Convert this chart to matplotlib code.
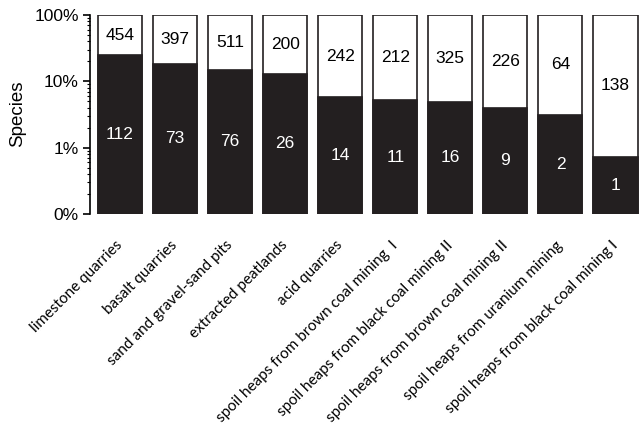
import matplotlib
matplotlib.use("Agg")
import matplotlib.pyplot as plt
import numpy as np
from matplotlib.ticker import FixedLocator, LogLocator, NullFormatter

categories = ["limestone quarries", "basalt quarries", "sand and gravel-sand pits",
              "extracted peatlands", "acid quarries", "spoil heaps from brown coal mining  I",
              "spoil heaps from black coal mining II", "spoil heaps from brown coal mining II",
              "spoil heaps from uranium mining", "spoil heaps from black coal mining I"]
totals = [454, 397, 511, 200, 242, 212, 325, 226, 64, 138]
subset = [112, 73, 76, 26, 14, 11, 16, 9, 2, 1]
ytick_vals = [0.1, 1, 10, 100]
ytick_labels = ["0%", "1%", "10%", "100%"]

W, H = 639, 429
fig = plt.figure(figsize=(W/100, H/100), dpi=100)
ax = fig.add_axes([90/W, 1-214/H, (639-90)/W, 199/H])

x = np.arange(len(categories))
pct = np.array(subset) / np.array(totals) * 100
ymin, ymax = 0.1, 100
dark = "#231f20"
bw = 0.8
ax.bar(x, ymax - ymin, bottom=ymin, width=bw, color="white", edgecolor=dark, linewidth=1.2, zorder=2)
ax.bar(x, pct - ymin, bottom=ymin, width=bw, color=dark, edgecolor=dark, linewidth=1.2, zorder=3)

ax.set_yscale("log")
ax.set_ylim(ymin, ymax)
ax.set_xlim(-0.545, 9.427)

for xi, p, t, s in zip(x, pct, totals, subset):
    ax.text(xi, np.sqrt(p * ymax), str(t), ha="center", va="center", fontsize=12.5,
            color="black", family="Liberation Sans", zorder=4)
    ax.text(xi, np.sqrt(p * ymin), str(s), ha="center", va="center", fontsize=12.5,
            color="white", family="Liberation Sans", zorder=4)

ax.yaxis.set_major_locator(FixedLocator(ytick_vals))
ax.set_yticklabels(ytick_labels, fontsize=12.5, family="Liberation Sans")
ax.yaxis.set_minor_locator(LogLocator(base=10, subs=np.arange(2, 10)))
ax.yaxis.set_minor_formatter(NullFormatter())
ax.tick_params(axis="y", which="major", length=5, width=1.2, direction="out", pad=3)
ax.tick_params(axis="y", which="minor", length=2.5, width=0.8, direction="out")

ax.set_xticks(x)
ax.set_xticklabels(categories, rotation=45, ha="right", va="center",
                   rotation_mode="anchor", fontsize=11, family="Lato")
ax.tick_params(axis="x", length=0, pad=21)

for s in ["top", "right", "bottom"]:
    ax.spines[s].set_visible(False)
ax.spines["left"].set_linewidth(1.2)

fig.text(18/W, 1-114/H, "Species", rotation=90, ha="center", va="center",
         fontsize=13.5, family="Liberation Sans")

fig.savefig("out.png", dpi=100)
